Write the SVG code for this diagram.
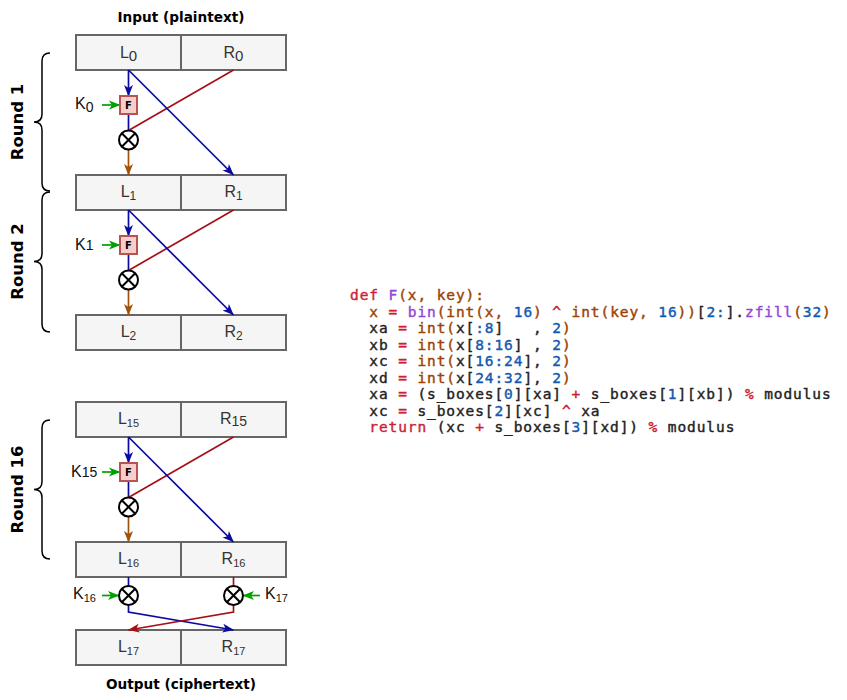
<svg xmlns="http://www.w3.org/2000/svg" width="847" height="700" viewBox="0 0 847 700">
<style>
.box{fill:#f5f5f5;stroke:#666666;stroke-width:2}
.lbl{font-family:"Liberation Sans","DejaVu Sans",sans-serif;font-size:16px;fill:#333333;text-anchor:middle}
.klbl{font-family:"Liberation Sans","DejaVu Sans",sans-serif;font-size:16px;fill:#111111}
.title{font-family:"DejaVu Sans",sans-serif;font-weight:bold;font-size:14.5px;fill:#000;text-anchor:middle}
.round{font-family:"DejaVu Sans",sans-serif;font-weight:bold;font-size:16.5px;fill:#000;text-anchor:middle}
.fbox{fill:#f8cecc;stroke:#b85450;stroke-width:2}
.ftxt{font-family:"DejaVu Sans",sans-serif;font-weight:bold;font-size:10px;fill:#000;text-anchor:middle}
.xor circle{fill:#fff;stroke:#000;stroke-width:2}
.xor path{stroke:#000;stroke-width:2}
.brace{fill:none;stroke:#000;stroke-width:1.5}
.bl{fill:none;stroke:#0a0aa0;stroke-width:1.7}
.rd{fill:none;stroke:#a50f15;stroke-width:1.7}
.br{fill:none;stroke:#a0520a;stroke-width:1.7}
.gr{fill:none;stroke:#00a000;stroke-width:1.7}
.code{font-family:"DejaVu Sans Mono","Liberation Mono",monospace;font-size:14.5px;letter-spacing:0.9px;fill:#222222;stroke:#222222;stroke-width:0.4;white-space:pre}
.kw{fill:#cc1f36;stroke:#cc1f36}.pu{fill:#9447d6;stroke:#9447d6}.bn{fill:#9c4303;stroke:#9c4303}.nu{fill:#1459b0;stroke:#1459b0}
</style>
<defs>
<marker id="ab" markerUnits="userSpaceOnUse" markerWidth="12" markerHeight="12" refX="11" refY="6" orient="auto"><path d="M0,1.5 L11.5,6 L0,10.5 L3,6 z" fill="#0a0aa0"/></marker>
<marker id="ar" markerUnits="userSpaceOnUse" markerWidth="12" markerHeight="12" refX="11" refY="6" orient="auto"><path d="M0,1.5 L11.5,6 L0,10.5 L3,6 z" fill="#a50f15"/></marker>
<marker id="an" markerUnits="userSpaceOnUse" markerWidth="12" markerHeight="12" refX="11" refY="6" orient="auto"><path d="M0,1.5 L11.5,6 L0,10.5 L3,6 z" fill="#a0520a"/></marker>
<marker id="ag" markerUnits="userSpaceOnUse" markerWidth="12" markerHeight="12" refX="11" refY="6" orient="auto"><path d="M0,1.5 L11.5,6 L0,10.5 L3,6 z" fill="#00a000"/></marker>
<g id="xorsym" class="xor"><circle cx="0" cy="0" r="9.5"/><path d="M-6.7,-6.7 L6.7,6.7 M-6.7,6.7 L6.7,-6.7"/></g>
</defs>

<text class="title" x="181" y="22" textLength="127" lengthAdjust="spacingAndGlyphs">Input (plaintext)</text>
<text class="title" x="181" y="689" textLength="150" lengthAdjust="spacingAndGlyphs">Output (ciphertext)</text>

<g id="braces">
<path class="brace" d="M50,53 Q42,53 42,61 L42,114 Q42,122 34,122 Q42,122 42,130 L42,183 Q42,191 50,191"/>
<path class="brace" d="M50,192 Q42,192 42,200 L42,253.5 Q42,261.5 34,261.5 Q42,261.5 42,269.5 L42,324 Q42,332 50,332"/>
<path class="brace" d="M50,420 Q42,420 42,428 L42,481.5 Q42,489.5 34,489.5 Q42,489.5 42,497.5 L42,551 Q42,559 50,559"/>
<text class="round" transform="translate(23,122) rotate(-90)">Round 1</text>
<text class="round" transform="translate(23,261.5) rotate(-90)">Round 2</text>
<text class="round" transform="translate(23,489.5) rotate(-90)">Round 16</text>
</g>

<g id="row0"><rect class="box" x="76" y="35" width="105" height="35"/><rect class="box" x="181" y="35" width="105" height="35"/>
<text class="lbl" x="128.5" y="58">L<tspan font-size="15" dy="3">0</tspan></text><text class="lbl" x="233.5" y="58">R<tspan font-size="15" dy="3">0</tspan></text></g>
<g id="row1"><rect class="box" x="76" y="175" width="105" height="35"/><rect class="box" x="181" y="175" width="105" height="35"/>
<text class="lbl" x="128.5" y="197">L<tspan font-size="12" dy="3">1</tspan></text><text class="lbl" x="233.5" y="197">R<tspan font-size="12" dy="3">1</tspan></text></g>
<g id="row2"><rect class="box" x="76" y="315" width="105" height="35"/><rect class="box" x="181" y="315" width="105" height="35"/>
<text class="lbl" x="128.5" y="337">L<tspan font-size="12" dy="3">2</tspan></text><text class="lbl" x="233.5" y="337">R<tspan font-size="12" dy="3">2</tspan></text></g>
<g id="row15"><rect class="box" x="76" y="402" width="105" height="35"/><rect class="box" x="181" y="402" width="105" height="35"/>
<text class="lbl" x="128.5" y="424">L<tspan font-size="11" dy="3">15</tspan></text><text class="lbl" x="233.5" y="424">R<tspan font-size="14" dy="2">15</tspan></text></g>
<g id="row16"><rect class="box" x="76" y="542" width="105" height="35"/><rect class="box" x="181" y="542" width="105" height="35"/>
<text class="lbl" x="128.5" y="564">L<tspan font-size="11" dy="3">16</tspan></text><text class="lbl" x="233.5" y="564">R<tspan font-size="11" dy="3">16</tspan></text></g>
<g id="row17"><rect class="box" x="76" y="630" width="105" height="35"/><rect class="box" x="181" y="630" width="105" height="35"/>
<text class="lbl" x="128.5" y="652">L<tspan font-size="11" dy="3">17</tspan></text><text class="lbl" x="233.5" y="652">R<tspan font-size="11" dy="3">17</tspan></text></g>

<g id="connectors">
<path class="bl" d="M128.5,70 L128.5,96" marker-end="url(#ab)"/>
<path class="bl" d="M128.5,114 L128.5,130.5"/>
<path class="rd" d="M233.5,70 L128.5,130.5"/>
<path class="bl" d="M128.5,70 L233.5,175" marker-end="url(#ab)"/>
<path class="br" d="M128.5,149.5 L128.5,175" marker-end="url(#an)"/>
<path class="gr" d="M102,105 L120,105" marker-end="url(#ag)"/>

<path class="bl" d="M128.5,210 L128.5,236" marker-end="url(#ab)"/>
<path class="bl" d="M128.5,254 L128.5,270.5"/>
<path class="rd" d="M233.5,210 L128.5,270.5"/>
<path class="bl" d="M128.5,210 L233.5,315" marker-end="url(#ab)"/>
<path class="br" d="M128.5,289.5 L128.5,315" marker-end="url(#an)"/>
<path class="gr" d="M102,245 L120,245" marker-end="url(#ag)"/>

<path class="bl" d="M128.5,437 L128.5,463" marker-end="url(#ab)"/>
<path class="bl" d="M128.5,481 L128.5,497.5"/>
<path class="rd" d="M233.5,437 L128.5,497.5"/>
<path class="bl" d="M128.5,437 L233.5,542" marker-end="url(#ab)"/>
<path class="br" d="M128.5,516.5 L128.5,542" marker-end="url(#an)"/>
<path class="gr" d="M102,472 L120,472" marker-end="url(#ag)"/>

<path class="bl" d="M128.5,577 L128.5,586"/>
<path class="rd" d="M233.5,577 L233.5,586"/>
<path class="bl" d="M128.5,605 L128.5,612 L233.5,630" marker-end="url(#ab)"/>
<path class="rd" d="M233.5,605 L233.5,612 L128.5,630" marker-end="url(#ar)"/>
<path class="gr" d="M102,595.5 L119,595.5" marker-end="url(#ag)"/>
<path class="gr" d="M260,595.5 L243,595.5" marker-end="url(#ag)"/>
</g>

<g id="f1"><rect class="fbox" x="120" y="96" width="17" height="18"/><text class="ftxt" x="128.5" y="108.5">F</text></g>
<g id="f2"><rect class="fbox" x="120" y="236" width="17" height="18"/><text class="ftxt" x="128.5" y="248.5">F</text></g>
<g id="f16"><rect class="fbox" x="120" y="463" width="17" height="18"/><text class="ftxt" x="128.5" y="475.5">F</text></g>

<g id="x1"><use href="#xorsym" x="128.5" y="140"/></g>
<g id="x2"><use href="#xorsym" x="128.5" y="280"/></g>
<g id="x16"><use href="#xorsym" x="128.5" y="507"/></g>
<g id="x17l"><use href="#xorsym" x="128.5" y="595.5"/></g>
<g id="x17r"><use href="#xorsym" x="233.5" y="595.5"/></g>

<g id="keys">
<text class="klbl" x="75" y="109">K<tspan font-size="14" dy="3">0</tspan></text>
<text class="klbl" x="75" y="250">K<tspan font-size="14">1</tspan></text>
<text class="klbl" x="71" y="477">K<tspan font-size="14">15</tspan></text>
<text class="klbl" x="73" y="599">K<tspan font-size="11" dy="3">16</tspan></text>
<text class="klbl" x="265" y="599">K<tspan font-size="11" dy="3">17</tspan></text>
</g>

<g id="code" class="code">
<text xml:space="preserve" x="350" y="300"><tspan class="kw">def</tspan> <tspan class="pu">F</tspan><tspan class="bn">(x, key):</tspan></text>
<text xml:space="preserve" x="350" y="316.5">  <tspan class="bn">x</tspan> <tspan class="kw">=</tspan> <tspan class="pu">bin</tspan><tspan class="bn">(int(x,</tspan> <tspan class="nu">16</tspan><tspan class="bn">)</tspan> <tspan class="kw">^</tspan> <tspan class="bn">int(key,</tspan> <tspan class="nu">16</tspan><tspan class="bn">))</tspan>[<tspan class="nu">2:</tspan>].<tspan class="pu">zfill</tspan><tspan class="bn">(</tspan><tspan class="nu">32</tspan><tspan class="bn">)</tspan></text>
<text xml:space="preserve" x="350" y="333">  xa <tspan class="kw">=</tspan> <tspan class="bn">int(</tspan>x[<tspan class="nu">:8</tspan>]   , <tspan class="nu">2</tspan><tspan class="bn">)</tspan></text>
<text xml:space="preserve" x="350" y="349.5">  xb <tspan class="kw">=</tspan> <tspan class="bn">int(</tspan>x[<tspan class="nu">8:16</tspan>] , <tspan class="nu">2</tspan><tspan class="bn">)</tspan></text>
<text xml:space="preserve" x="350" y="366">  xc <tspan class="kw">=</tspan> <tspan class="bn">int(</tspan>x[<tspan class="nu">16:24</tspan>], <tspan class="nu">2</tspan><tspan class="bn">)</tspan></text>
<text xml:space="preserve" x="350" y="382.5">  xd <tspan class="kw">=</tspan> <tspan class="bn">int(</tspan>x[<tspan class="nu">24:32</tspan>], <tspan class="nu">2</tspan><tspan class="bn">)</tspan></text>
<text xml:space="preserve" x="350" y="399">  xa <tspan class="kw">=</tspan> (s_boxes[<tspan class="nu">0</tspan>][xa] <tspan class="kw">+</tspan> s_boxes[<tspan class="nu">1</tspan>][xb]) <tspan class="kw">%</tspan> modulus</text>
<text xml:space="preserve" x="350" y="415.5">  xc <tspan class="kw">=</tspan> s_boxes[<tspan class="nu">2</tspan>][xc] <tspan class="kw">^</tspan> xa</text>
<text xml:space="preserve" x="350" y="432">  <tspan class="kw">return</tspan> (xc <tspan class="kw">+</tspan> s_boxes[<tspan class="nu">3</tspan>][xd]) <tspan class="kw">%</tspan> modulus</text>
</g>
</svg>
